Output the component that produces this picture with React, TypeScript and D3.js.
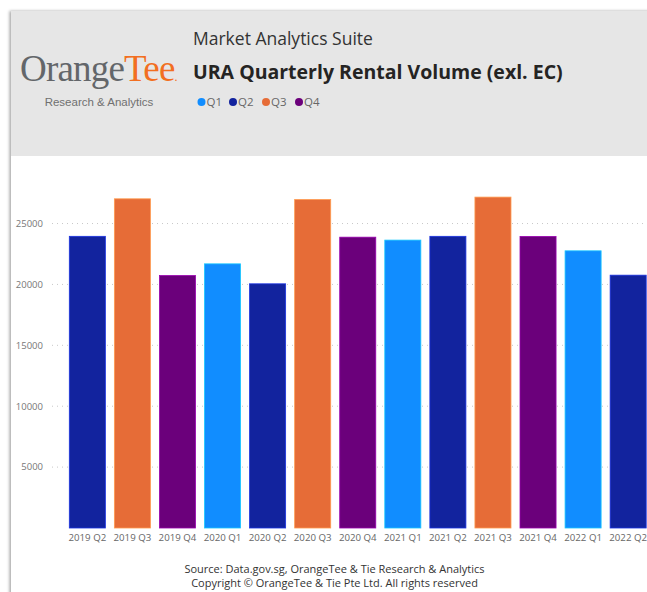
import React, { useEffect, useRef } from 'react';
import * as d3 from 'd3';

const quarters = ['2019 Q2', '2019 Q3', '2019 Q4', '2020 Q1', '2020 Q2', '2020 Q3', '2020 Q4',
  '2021 Q1', '2021 Q2', '2021 Q3', '2021 Q4', '2022 Q1', '2022 Q2'];
const volumes = [23950, 27030, 20730, 21690, 20050, 26970, 23880, 23640, 23950, 27170, 23940, 22760, 20760];
const legendKeys = ['Q1', 'Q2', 'Q3', 'Q4'];
const legendColors = ['#118dff', '#12239e', '#e66c37', '#6b007b'];
const yTicks = [5000, 10000, 15000, 20000, 25000];

const font = '"Open Sans", "Noto Sans", sans-serif';

const App = () => {
  const svgRef = useRef<SVGSVGElement>(null);

  useEffect(() => {
    const svg = d3.select(svgRef.current);
    svg.selectAll('*').remove();

    const width = 647;
    const height = 592;

    const color = d3.scaleOrdinal<string, string>().domain(legendKeys).range(legendColors);

    // card shadow
    const defs = svg.append('defs');
    defs.append('filter')
      .attr('id', 'shadow')
      .attr('x', '-5%').attr('y', '-5%').attr('width', '110%').attr('height', '110%')
      .append('feDropShadow')
      .attr('dx', -1.5).attr('dy', 0).attr('stdDeviation', 1.5)
      .attr('flood-color', '#000').attr('flood-opacity', 0.35);

    svg.append('rect').attr('width', width).attr('height', height).attr('fill', '#fff');
    svg.append('rect')
      .attr('x', 11).attr('y', 11).attr('width', 700).attr('height', 640)
      .attr('fill', '#fff').attr('filter', 'url(#shadow)');

    // header band
    svg.append('rect')
      .attr('x', 11).attr('y', 11).attr('width', 700).attr('height', 145)
      .attr('fill', '#e6e6e6');

    // logo
    const logo = svg.append('text')
      .attr('x', 20).attr('y', 81)
      .attr('font-family', '"Liberation Serif", serif')
      .attr('font-size', 37)
      .attr('letter-spacing', -0.8);
    logo.append('tspan').attr('fill', '#63666a').text('Orange');
    logo.append('tspan').attr('fill', '#f26f21').text('Tee');
    logo.append('tspan').attr('fill', '#f26f21').attr('font-size', 12).text('.');

    svg.append('text')
      .attr('x', 99).attr('y', 106)
      .attr('text-anchor', 'middle')
      .attr('font-family', '"Liberation Sans", Arial, sans-serif')
      .attr('font-size', 11.5)
      .attr('fill', '#707070')
      .text('Research & Analytics');

    svg.append('text')
      .attr('x', 193).attr('y', 45)
      .attr('font-family', font)
      .attr('font-size', 17.5)
      .attr('fill', '#333')
      .text('Market Analytics Suite');

    svg.append('text')
      .attr('x', 193).attr('y', 79)
      .attr('font-family', font)
      .attr('font-size', 19.5)
      .attr('font-weight', 'bold')
      .attr('fill', '#252423')
      .text('URA Quarterly Rental Volume (exl. EC)');

    // legend
    const legendX = [201.5, 233, 266, 299];
    const legend = svg.append('g')
      .selectAll('g')
      .data(legendKeys)
      .join('g')
      .attr('transform', (d, i) => `translate(${legendX[i]},102)`);
    legend.append('circle').attr('r', 4).attr('fill', d => color(d));
    legend.append('text')
      .attr('x', 5).attr('dy', '0.35em')
      .attr('font-family', font)
      .attr('font-size', 11.5)
      .attr('fill', '#666')
      .text(d => d);

    // chart
    const x = d3.scaleBand()
      .domain(quarters)
      .range([64.8, 650.7])
      .paddingInner(0.2)
      .paddingOuter(0.1);

    const y = d3.scaleLinear()
      .domain([0, 28000])
      .range([528, 187]);

    svg.append('g')
      .selectAll('line')
      .data(yTicks)
      .join('line')
      .attr('x1', 52).attr('x2', width)
      .attr('y1', d => y(d)).attr('y2', d => y(d))
      .attr('stroke', '#c8c8c8')
      .attr('stroke-dasharray', '1,4');

    svg.append('g')
      .selectAll('text')
      .data(yTicks)
      .join('text')
      .attr('x', 43)
      .attr('y', d => y(d))
      .attr('dy', '0.35em')
      .attr('text-anchor', 'end')
      .attr('font-family', font)
      .attr('font-size', 9.5)
      .attr('fill', '#777')
      .text(d => d);

    svg.append('g')
      .selectAll('rect')
      .data(quarters)
      .join('rect')
      .attr('x', d => x(d)!)
      .attr('y', (d, i) => y(volumes[i]))
      .attr('width', x.bandwidth())
      .attr('height', (d, i) => y(0) - y(volumes[i]))
      .attr('fill', d => color(d.slice(-2)))
      .attr('stroke', d => d3.color(color(d.slice(-2)))!.brighter(1).formatHex())
      .attr('stroke-width', 0.8);

    svg.append('g')
      .selectAll('text')
      .data(quarters)
      .join('text')
      .attr('x', d => x(d)! + x.bandwidth() / 2)
      .attr('y', 541)
      .attr('text-anchor', 'middle')
      .attr('font-family', font)
      .attr('font-size', 9.7)
      .attr('fill', '#666')
      .text(d => d);

    // footer
    svg.append('text')
      .attr('x', 334.5).attr('y', 573)
      .attr('text-anchor', 'middle')
      .attr('font-family', font)
      .attr('font-size', 11)
      .attr('fill', '#333')
      .text('Source: Data.gov.sg, OrangeTee & Tie Research & Analytics');

    svg.append('text')
      .attr('x', 334.5).attr('y', 587)
      .attr('text-anchor', 'middle')
      .attr('font-family', font)
      .attr('font-size', 11)
      .attr('fill', '#333')
      .text('Copyright © OrangeTee & Tie Pte Ltd. All rights reserved');
  }, []);

  return (
    <svg
      ref={svgRef}
      width={647}
      height={592}
      style={{ position: 'absolute', left: 0, top: 0, display: 'block' }}
    />
  );
};

export default App;
